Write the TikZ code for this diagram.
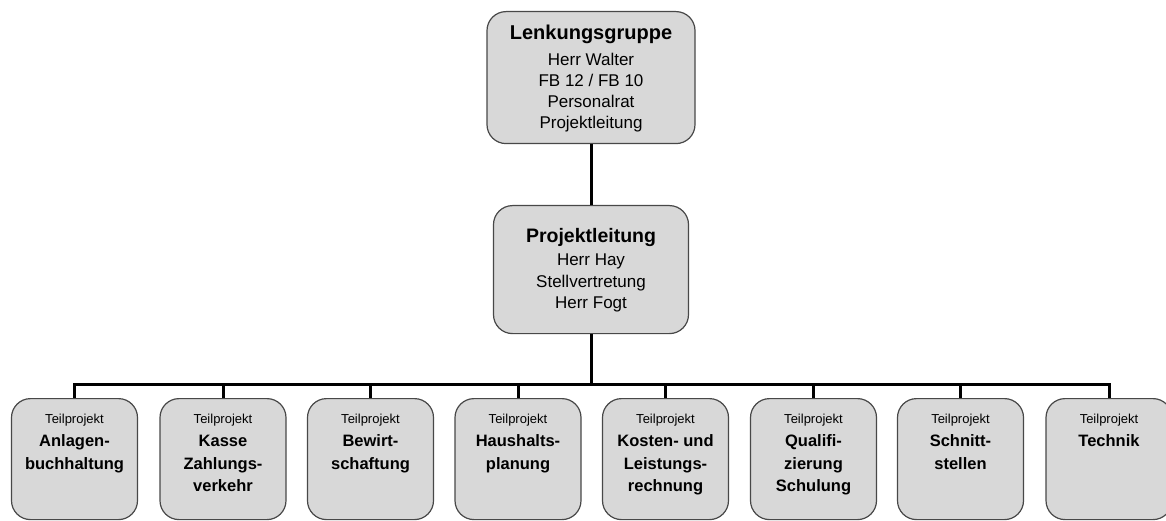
\documentclass[tikz,border=0pt]{standalone}
\usepackage{fontspec}
\setmainfont{Liberation Sans}
\definecolor{boxfill}{RGB}{216,216,216}
\definecolor{boxline}{RGB}{72,72,72}
\tikzset{
  orgbox/.style={draw=boxline, fill=boxfill, line width=1.2pt, rounded corners=19pt, inner sep=0pt, anchor=north},
  conn/.style={line width=3pt, black}
}
\newcommand{\tpbox}[1]{\parbox[t][121pt][t]{126pt}{\centering\fontsize{13}{15}\selectfont\rule{0pt}{25pt}Teilprojekt\par\vspace{0.5pt}\fontsize{16.5}{22.5}\selectfont\bfseries #1\par}}
\begin{document}
\begin{tikzpicture}[x=1pt,y=-1pt]
\useasboundingbox (0,0) rectangle (1166,521);
\node[orgbox] (lg) at (591,11) {\parbox[t][132pt][t]{208pt}{\centering\fontsize{20}{24}\selectfont\bfseries\rule{0pt}{28pt}Lenkungsgruppe\par\vspace{5pt}\fontsize{17}{21}\selectfont\mdseries Herr Walter\\FB 12 / FB 10\\Personalrat\\Projektleitung\par}};
\node[orgbox] (pl) at (591,205) {\parbox[t][128pt][t]{195pt}{\centering\fontsize{19.5}{23}\selectfont\bfseries\rule{0pt}{37pt}Projektleitung\par\vspace{1.5pt}\fontsize{17}{21.5}\selectfont\mdseries Herr Hay\\Stellvertretung\\Herr Fogt\par}};
\node[orgbox] (b1) at (74.5,398) {\tpbox{Anlagen-\\buchhaltung}};
\node[orgbox] (b2) at (223,398) {\tpbox{Kasse\\Zahlungs-\\verkehr}};
\node[orgbox] (b3) at (370.5,398) {\tpbox{Bewirt-\\schaftung}};
\node[orgbox] (b4) at (518,398) {\tpbox{Haushalts-\\planung}};
\node[orgbox] (b5) at (665.5,398) {\tpbox{Kosten- und\\Leistungs-\\rechnung}};
\node[orgbox] (b6) at (813.5,398) {\tpbox{Qualifi-\\zierung\\Schulung}};
\node[orgbox] (b7) at (960.5,398) {\tpbox{Schnitt-\\stellen}};
\node[orgbox] (b8) at (1109,398) {\tpbox{Technik}};
\coordinate (bus) at (591,384);
\draw[conn] (lg.south) -- (pl.north);
\draw[conn] (pl.south) -- (bus);
\foreach \i in {1,...,8} {\draw[conn] (bus) -| (b\i.north);}
\end{tikzpicture}
\end{document}
